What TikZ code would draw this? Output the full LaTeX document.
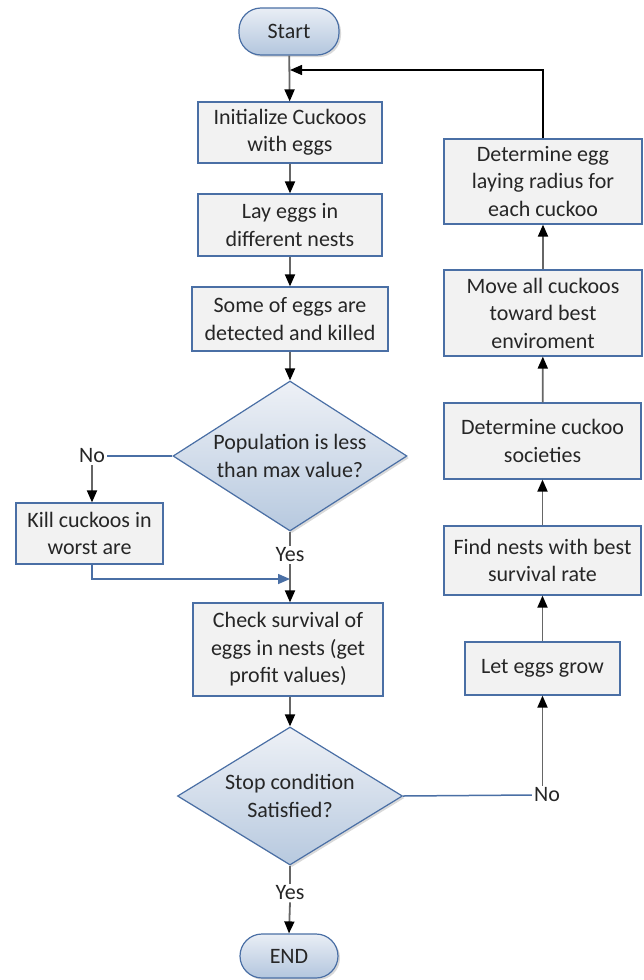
\documentclass[tikz,border=0pt]{standalone}
\usepackage{fontspec}
\setmainfont{Carlito}
\usetikzlibrary{arrows.meta,shapes.geometric,shadows,calc}
\definecolor{bord}{HTML}{4A6FA5}
\definecolor{boxfill}{HTML}{F2F2F2}
\definecolor{txt}{HTML}{262626}
\definecolor{lgrey}{HTML}{666666}
\definecolor{dtop}{HTML}{EEF1F6}
\definecolor{dbot}{HTML}{B7C9DF}
\definecolor{ptop}{HTML}{E9EEF5}
\definecolor{pbot}{HTML}{B3C6DE}
\tikzset{
  procbox/.style={rectangle, draw=bord, line width=1.2pt, fill=boxfill, align=center, inner sep=0pt,
    drop shadow={shadow xshift=1.2pt, shadow yshift=-1.2pt, opacity=0.25}},
  pill/.style={rectangle, rounded corners=22pt, draw=bord, line width=1.2pt, top color=ptop, bottom color=pbot,
    align=center, drop shadow={shadow xshift=2pt, shadow yshift=-2pt, opacity=0.3}},
  dec/.style={diamond, draw=bord, line width=1.2pt, top color=dtop, bottom color=dbot, inner sep=0pt,
    drop shadow={shadow xshift=2pt, shadow yshift=-2pt, opacity=0.3}},
  dtext/.style={align=center, inner sep=0pt},
  lab/.style={inner sep=2pt},
  conn/.style={draw=lgrey, line width=1.8pt, -{Triangle[length=12pt,width=10pt,color=black]}},
  plain/.style={draw=lgrey, line width=1.8pt},
  bline/.style={draw=bord, line width=1.5pt},
  barrow/.style={draw=bord, line width=1.5pt, -{Triangle[length=12pt,width=10pt,color=bord]}},
  kline/.style={draw=black, line width=1.4pt, -{Triangle[length=12pt,width=10pt,color=black]}}
}
\begin{document}
\begin{tikzpicture}[x=1pt,y=-1pt, font=\fontsize{22}{27.5}\selectfont, text=txt]
\useasboundingbox (0,0) rectangle (644,980);
% left column
\node[pill, minimum width=100pt, minimum height=47pt] (start) at (289,31.5) {Start};
\node[procbox, minimum width=184pt, minimum height=61pt] (init) at (290,132.5) {Initialize Cuckoos\\with eggs};
\node[procbox, minimum width=184pt, minimum height=62pt] (lay) at (290,225) {Lay eggs in\\different nests};
\node[procbox, minimum width=196pt, minimum height=64pt] (some) at (290,319) {Some of eggs are\\detected and killed};
\node[dec, minimum width=234pt, minimum height=150pt] (d1) at (290,456) {};
\node[dtext] (d1t) at (290,456) {Population is less\\than max value?};
\node[lab] (no1) at (92,456) {No};
\node[procbox, minimum width=147pt, minimum height=61pt] (kill) at (89.5,533.5) {Kill cuckoos in\\worst are};
\node[lab] (yes1) at (290,555) {Yes};
\coordinate (m) at (290,579);
\node[procbox, minimum width=190pt, minimum height=93pt] (check) at (288,649.5) {Check survival of\\eggs in nests (get\\profit values)};
\node[dec, minimum width=225pt, minimum height=138pt] (d2) at (290,796) {};
\node[dtext] (d2t) at (290,796) {Stop condition\\Satisfied?};
\node[lab] (yes2) at (290,893) {Yes};
\node[pill, minimum width=98pt, minimum height=44pt] (end) at (289,956) {END};
% right column
\node[procbox, minimum width=198pt, minimum height=85pt] (egg) at (543,181.5) {Determine egg\\laying radius for\\each cuckoo};
\node[procbox, minimum width=198pt, minimum height=86pt] (move) at (543,313) {Move all cuckoos\\toward best\\enviroment};
\node[procbox, minimum width=197pt, minimum height=76pt] (soc) at (542.5,441) {Determine cuckoo\\societies};
\node[procbox, minimum width=197pt, minimum height=69pt] (find) at (542.5,560.5) {Find nests with best\\survival rate};
\node[procbox, minimum width=155pt, minimum height=53pt] (grow) at (542.5,668.5) {Let eggs grow};
\node[lab] (no2) at (547,795) {No};
\coordinate (r) at (290,70);
% connectors
\draw[conn] (start) -- (init);
\draw[conn] (init) -- (lay);
\draw[conn] (lay) -- (some);
\draw[conn] (some) -- (d1);
\draw[bline] (d1.west) -- (no1.east);
\draw[conn] (no1.south) -- (no1.south |- kill.north);
\draw[plain] (d1.south) -- (yes1.north);
\draw[conn] (yes1.south) -- (yes1.south |- check.north);
\draw[barrow] (no1.south |- kill.south) |- (m);
\draw[conn] (check.south -| d2.north) -- (d2.north);
\draw[plain] (d2.south) -- (yes2.north);
\draw[conn] (yes2.south) -- (end.north);
\draw[bline] (d2.east) -- (no2.west);
\draw[conn] (no2.north -| grow.south) -- (grow.south);
\draw[conn] (grow) -- (find);
\draw[conn] (find) -- (soc);
\draw[conn] (soc) -- (move);
\draw[conn] (move) -- (egg);
\draw[kline] (egg.north) |- (r);
\end{tikzpicture}
\end{document}
